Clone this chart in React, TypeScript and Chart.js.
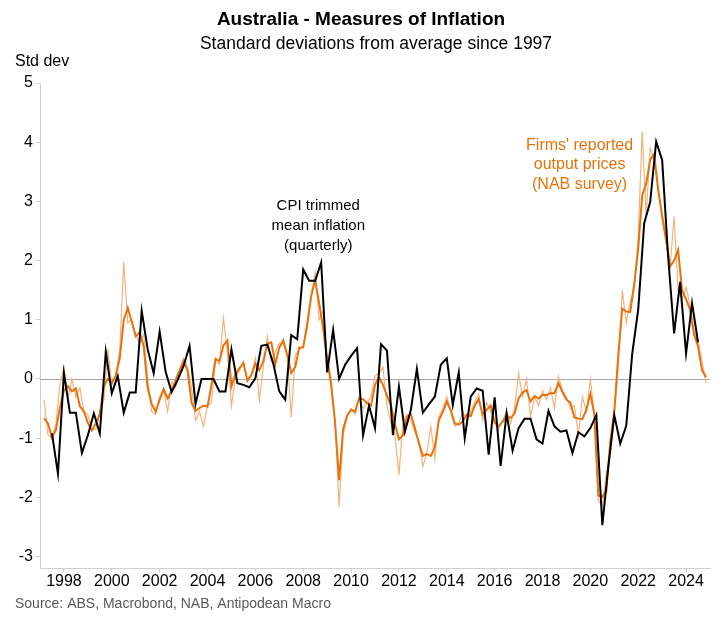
import { useEffect, useRef } from "react";
import { Chart, registerables } from "chart.js";

Chart.register(...registerables);

// ---------- data ----------
const TITLE = "Australia - Measures of Inflation";
const SUBTITLE = "Standard deviations from average since 1997";
const Y_UNIT = "Std dev";
const SOURCE = "Source: ABS, Macrobond, NAB, Antipodean Macro";
const CPI_LABEL = ["CPI trimmed", "mean inflation", "(quarterly)"];
const NAB_LABEL = ["Firms' reported", "output prices", "(NAB survey)"];

const X_TICKS = [1998, 2000, 2002, 2004, 2006, 2008, 2010, 2012, 2014, 2016, 2018, 2020, 2022, 2024];
const Y_TICKS = [5, 4, 3, 2, 1, 0, -1, -2, -3];

// CPI trimmed mean (quarterly), first point 1997 Q2
const CPI_START = 1997.5;
const CPI_STEP = 0.25;
const CPI_TRIMMED_MEAN = [
  -0.92, -1.6, 0.1, -0.57, -0.57, -1.25, -0.95, -0.58, -0.92, 0.46,
  -0.24, 0.05, -0.57, -0.23, -0.23, 1.15, 0.5, 0.1, 0.8, 0.12,
  -0.22, -0.02, 0.22, 0.56, -0.42, 0.0, 0.0, 0.0, -0.21, -0.21,
  0.5, -0.07, -0.1, -0.14, 0.01, 0.56, 0.58, 0.26, -0.21, -0.35,
  0.74, 0.67, 1.85, 1.66, 1.66, 1.97, 0.11, 0.83, 0.0, 0.24,
  0.39, 0.52, -0.95, -0.45, -0.83, 0.59, 0.48, -0.95, -0.13, -0.89,
  -0.52, 0.17, -0.57, -0.43, -0.3, 0.24, 0.35, -0.44, 0.11, -1.0,
  -0.3, -0.16, -0.2, -1.28, -0.31, -1.47, -0.58, -1.21, -0.83, -0.67,
  -0.67, -1.02, -1.09, -0.54, -0.8, -0.89, -0.87, -1.25, -0.9, -0.97,
  -0.83, -0.61, -2.47, -1.48, -0.61, -1.09, -0.79, 0.43, 1.17, 2.63,
  2.99, 4.01, 3.7, 2.07, 0.77, 1.64, 0.43, 1.28, 0.62,
];

// NAB output prices, smoothed (every two months from Mar 1997)
const NAB_SMOOTH_START = 1997 + 1 / 6;
const NAB_SMOOTH_STEP = 1 / 6;
const NAB_SMOOTH = [
  -0.66, -0.75, -0.99, -0.86, -0.48, -0.2,
  -0.12, -0.21, -0.16, -0.46, -0.55, -0.74,
  -0.87, -0.75, -0.59, -0.12, 0.0, -0.07,
  0.06, 0.35, 1.0, 1.2, 0.97, 0.72,
  0.79, 0.55, -0.15, -0.42, -0.55, -0.35,
  -0.17, -0.33, -0.2, -0.02, 0.15, 0.3,
  0.14, -0.4, -0.54, -0.49, -0.45, -0.47,
  -0.1, 0.34, 0.3, 0.57, 0.65, -0.13,
  0.08, 0.18, 0.27, -0.02, 0.07, 0.26,
  0.15, 0.3, 0.6, 0.62, 0.25, 0.53,
  0.65, 0.4, 0.1, 0.2, 0.53, 0.53,
  0.93, 1.4, 1.67, 1.28, 0.85, 0.35,
  -0.1, -0.75, -1.71, -0.85, -0.62, -0.52,
  -0.55, -0.33, -0.34, -0.41, -0.45, -0.1,
  0.03, -0.1, -0.28, -0.44, -0.76, -1.02,
  -0.95, -0.64, -0.6, -0.83, -1.08, -1.3,
  -1.27, -1.3, -1.15, -0.7, -0.56, -0.38,
  -0.53, -0.75, -0.77, -0.72, -0.6, -0.63,
  -0.45, -0.34, -0.6, -0.52, -0.45, -0.73,
  -0.8, -0.72, -0.62, -0.66, -0.58, -0.33,
  -0.23, -0.19, -0.38, -0.29, -0.33, -0.27,
  -0.27, -0.24, -0.24, -0.07, -0.22, -0.35,
  -0.4, -0.65, -0.67, -0.68, -0.52, -0.25,
  -0.6, -1.97, -1.99, -1.9, -1.05, -0.55,
  0.4, 1.19, 1.14, 1.13, 1.6, 2.2,
  3.1, 3.3, 3.7, 3.8, 3.2, 2.76,
  2.35, 1.9, 2.0, 2.18, 1.5, 1.35,
  1.17, 0.75, 0.55, 0.15, 0.03,
];

// NAB output prices, raw survey readings (every two months from Mar 1997)
const NAB_RAW_START = 1997 + 1 / 6;
const NAB_RAW_STEP = 1 / 6;
const NAB_RAW = [
  -0.35, -0.95, -1.0, -0.75, -0.1, 0.2,
  -0.35, 0.0, -0.3, -0.15, -0.55, -0.6,
  -0.85, -0.85, -0.6, -0.35, 0.5, -0.1,
  0.05, 0.5, 1.98, 0.95, 1.0, 0.75,
  0.6, 0.75, 0.0, -0.55, -0.6, -0.3,
  -0.2, -0.55, -0.05, -0.15, 0.15, 0.35,
  0.2, -0.15, -0.7, -0.55, -0.8, -0.45,
  -0.4, 0.3, 0.25, 1.03, 0.45, -0.45,
  0.0, 0.15, 0.3, -0.05, 0.05, 0.35,
  -0.35, 0.2, 0.72, 0.3, 0.45, 0.6,
  0.6, 0.4, -0.65, 0.4, 0.5, 0.55,
  0.85, 1.4, 1.81, 1.0, 1.15, 0.35,
  0.0, -0.7, -2.16, -0.95, -0.65, -0.5,
  -0.6, -0.3, -0.5, -0.4, -0.3, 0.05,
  0.1, 0.2, -0.45, -0.75, -0.95, -1.62,
  -0.75, -0.6, -0.7, -0.9, -1.05, -1.48,
  -1.25, -0.8, -1.35, -0.65, -0.5, -0.3,
  -0.55, -0.8, -0.75, -0.55, -0.7, -0.55,
  -0.4, -0.25, -0.7, -0.4, -0.55, -0.75,
  -0.85, -0.7, -0.55, -0.75, -0.5, 0.1,
  -0.3, 0.0, -0.65, -0.3, -0.45, -0.2,
  -0.35, -0.15, -0.5, 0.05, -0.2, -0.3,
  -0.5, -0.45, -0.95, -0.3, -0.55, 0.0,
  -0.6, -2.05, -2.15, -1.6, -1.3, -0.6,
  0.2, 1.5, 0.95, 1.3, 1.55, 2.4,
  4.18, 2.75, 3.9, 3.7, 3.2, 2.7,
  2.3, 1.9, 2.74, 1.5, 1.35, 1.55,
  1.25, 0.8, 0.65, 0.3, -0.07,
];

// ---------- styling ----------
const FONT = '"Liberation Sans", Arial, sans-serif';
const BLACK = "#000000";
const ORANGE = "#E8720C";
const ORANGE_LIGHT = "rgba(246, 168, 112, 0.9)";
const AXIS_GREY = "#d0d0d0";

const toPoints = (start: number, step: number, vals: number[]) =>
  vals.map((v, i) => ({ x: start + step * i, y: v }));

const textPlugin = {
  id: "texts",
  beforeDatasetsDraw(chart: any) {
    const { ctx, chartArea, scales } = chart;
    const y0 = scales.y.getPixelForValue(0);
    ctx.save();
    ctx.strokeStyle = "#a6a6a6";
    ctx.lineWidth = 1;
    ctx.beginPath();
    ctx.moveTo(chartArea.left, Math.round(y0) + 0.5);
    ctx.lineTo(chartArea.right, Math.round(y0) + 0.5);
    ctx.stroke();
    ctx.restore();
  },
  afterDraw(chart: any) {
    const { ctx, scales } = chart;
    ctx.save();
    ctx.textBaseline = "middle";
    ctx.fillStyle = "#000";
    ctx.textAlign = "center";
    ctx.font = `bold 19px ${FONT}`;
    ctx.fillText(TITLE, 361, 20);
    ctx.font = `17.5px ${FONT}`;
    ctx.fillText(SUBTITLE, 376, 44);
    ctx.textAlign = "left";
    ctx.font = `16px ${FONT}`;
    ctx.fillText(Y_UNIT, 15, 62);
    ctx.fillStyle = "#595959";
    ctx.font = `14px ${FONT}`;
    ctx.fillText(SOURCE, 15, 604);

    ctx.textAlign = "center";
    ctx.font = `15px ${FONT}`;
    ctx.fillStyle = BLACK;
    const cx = scales.x.getPixelForValue(2008.63);
    const cy = scales.y.getPixelForValue(2.58);
    CPI_LABEL.forEach((s, i) => ctx.fillText(s, cx, cy + (i - 1) * 20));
    ctx.fillStyle = ORANGE;
    ctx.font = `16px ${FONT}`;
    const nx = scales.x.getPixelForValue(2019.55);
    const ny = scales.y.getPixelForValue(3.62);
    NAB_LABEL.forEach((s, i) => ctx.fillText(s, nx, ny + (i - 1) * 19.5));
    ctx.restore();
  },
};

export default function App() {
  const ref = useRef<HTMLCanvasElement | null>(null);
  useEffect(() => {
    if (!ref.current) return;
    const tickFont = { family: FONT, size: 16 };
    const chart = new Chart(ref.current, {
      type: "line",
      data: {
        datasets: [
          {
            label: "NAB raw",
            data: toPoints(NAB_RAW_START, NAB_RAW_STEP, NAB_RAW),
            borderColor: ORANGE_LIGHT,
            borderWidth: 1.2,
            pointRadius: 0,
            tension: 0,
            order: 3,
          },
          {
            label: "NAB smoothed",
            data: toPoints(NAB_SMOOTH_START, NAB_SMOOTH_STEP, NAB_SMOOTH),
            borderColor: ORANGE,
            borderWidth: 2,
            pointRadius: 0,
            tension: 0,
            order: 2,
          },
          {
            label: "CPI trimmed mean",
            data: toPoints(CPI_START, CPI_STEP, CPI_TRIMMED_MEAN),
            borderColor: BLACK,
            borderWidth: 2,
            pointRadius: 0,
            tension: 0,
            order: 1,
          },
        ],
      },
      options: {
        animation: false,
        responsive: false,
        maintainAspectRatio: false,
        devicePixelRatio: 1,
        layout: { padding: { top: 83, left: 0, right: 12, bottom: 22.6 } },
        plugins: {
          legend: { display: false },
          tooltip: { enabled: false },
          title: { display: false },
        },
        scales: {
          x: {
            type: "linear",
            min: 1997,
            max: 2025,
            afterBuildTicks: (s: any) => {
              s.ticks = X_TICKS.map((v) => ({ value: v }));
            },
            afterFit: (s: any) => {
              s.height = 30;
            },
            ticks: {
              autoSkip: false,
              maxRotation: 0,
              padding: 0,
              color: "#000",
              font: tickFont,
              callback: (v: any) => String(v),
            },
            grid: { drawOnChartArea: false, tickLength: 4, tickColor: AXIS_GREY },
            border: { color: AXIS_GREY },
          },
          y: {
            type: "linear",
            min: -3.2,
            max: 5,
            afterBuildTicks: (s: any) => {
              s.ticks = Y_TICKS.map((v) => ({ value: v }));
            },
            afterFit: (s: any) => {
              s.width = 40;
            },
            ticks: {
              padding: 3,
              color: "#000",
              font: tickFont,
              callback: (v: any) => String(v),
            },
            grid: { drawOnChartArea: false, tickLength: 4, tickColor: AXIS_GREY },
            border: { color: AXIS_GREY },
          },
        },
      },
      plugins: [textPlugin],
    });
    return () => chart.destroy();
  }, []);

  return (
    <div style={{ position: "absolute", left: 0, top: 0, width: 722, height: 621, background: "#fff" }}>
      <canvas ref={ref} width={722} height={621} style={{ width: 722, height: 621, display: "block" }} />
    </div>
  );
}
